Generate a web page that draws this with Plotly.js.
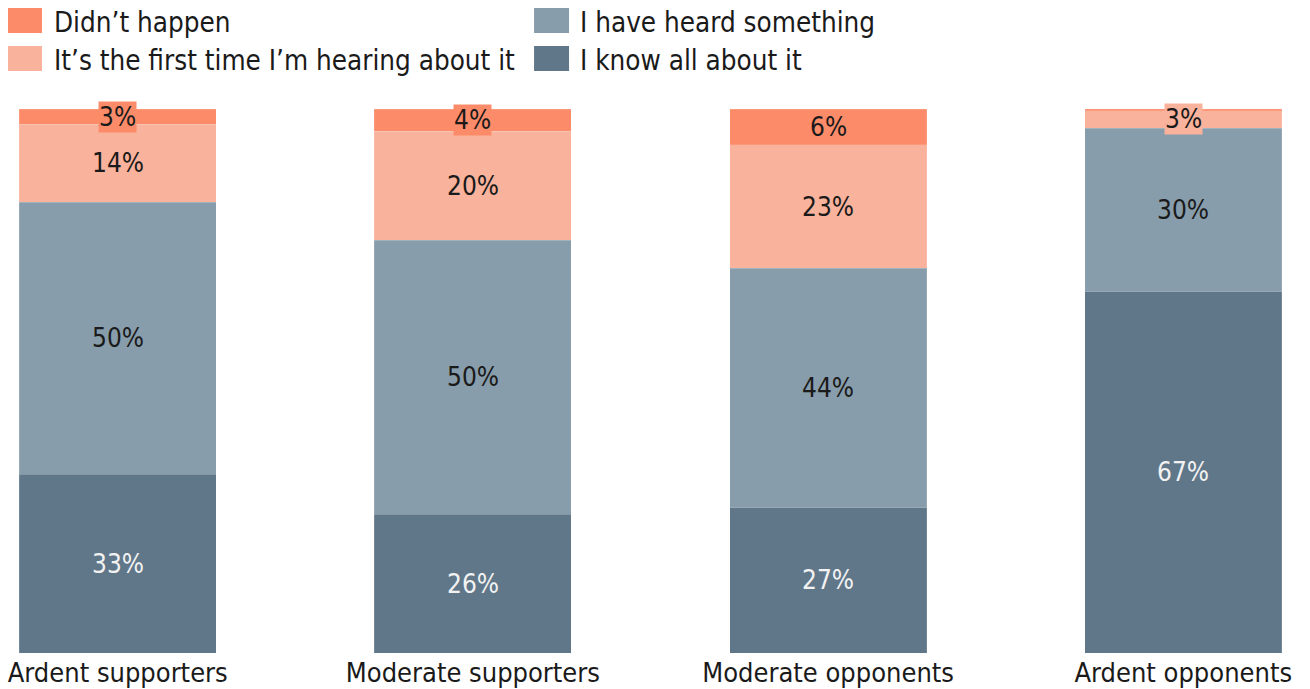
<!DOCTYPE html>
<html>
<head>
<meta charset="utf-8">
<script src="https://cdn.plot.ly/plotly-3.0.1.min.js"></script>
<style>
html,body{margin:0;padding:0;background:#fff;}
#chart{width:1310px;height:689px;}
</style>
</head>
<body>
<div id="chart"></div>
<script>
// ---- data ----
const categories = ["Ardent supporters", "Moderate supporters", "Moderate opponents", "Ardent opponents"];
const seriesNames = ["I know all about it", "I have heard something", "It\u2019s the first time I\u2019m hearing about it", "Didn\u2019t happen"];
const knowAll    = [32.9, 25.5, 26.7, 66.4];
const heardSome  = [50.0, 50.4, 44.0, 30.1];
const firstTime  = [14.3, 20.0, 22.7, 3.2];
const didntHappen= [2.8, 4.1, 6.6, 0.3];
const seriesColors = ["#607789", "#879dab", "#f9b29b", "#fc8b69"];
const labelColors  = ["#f2f2f2", "#1a1a1a", "#1a1a1a", "#1a1a1a"];
const legendRank   = [4, 2, 3, 1];

const FONT = "DejaVu Sans Condensed, DejaVu Sans, sans-serif";
const series = [knowAll, heardSome, firstTime, didntHappen];

// largest-remainder rounding so each bar's labels add to 100
function roundTo100(vals) {
  const fl = vals.map(v => Math.floor(v));
  let rest = 100 - fl.reduce((a, b) => a + b, 0);
  const order = vals.map((v, i) => [v - Math.floor(v), i]).sort((a, b) => b[0] - a[0]);
  for (let k = 0; k < rest && k < order.length; k++) fl[order[k][1]] += 1;
  return fl;
}

const traces = series.map((vals, s) => ({
  type: "bar",
  name: seriesNames[s],
  x: categories,
  y: vals,
  marker: {color: seriesColors[s], line: {color: "rgba(255,255,255,0.25)", width: 0.5}},
  hoverinfo: "x+y+name",
  showlegend: false
}));

const annotations = [];
categories.forEach((cat, c) => {
  const vals = series.map(v => v[c]);
  const labels = roundTo100(vals);
  let base = 0;
  vals.forEach((v, s) => {
    if (labels[s] > 0) {
      annotations.push({
        x: cat, y: base + v / 2, xref: "x", yref: "y",
        text: labels[s] + "%", showarrow: false,
        bgcolor: seriesColors[s], borderpad: 0,
        font: {family: FONT, size: 26, color: labelColors[s]}
      });
    }
    base += v;
  });
});

// custom legend (two columns)
const shapes = [];
const legendSlots = [
  {x0: -0.0087, x1: 0.0182, tx: 0.0262, yc: 1.1627},
  {x0: 0.4078, x1: 0.4355, tx: 0.4427, yc: 1.1627},
  {x0: -0.0087, x1: 0.0182, tx: 0.0262, yc: 1.0928},
  {x0: 0.4078, x1: 0.4355, tx: 0.4427, yc: 1.0928}
];
seriesNames.forEach((name, s) => {
  const slot = legendSlots[legendRank[s] - 1];
  shapes.push({type: "rect", xref: "paper", yref: "paper",
    x0: slot.x0, x1: slot.x1, y0: slot.yc - 0.023, y1: slot.yc + 0.023,
    fillcolor: seriesColors[s], line: {width: 0}});
  annotations.push({xref: "paper", yref: "paper", x: slot.tx, y: slot.yc - 0.004,
    xanchor: "left", yanchor: "middle", showarrow: false, text: name,
    font: {family: FONT, size: 27.6, color: "#1a1a1a"}});
});

const layout = {
  width: 1310, height: 689,
  margin: {l: 19, r: 28, t: 109, b: 36},
  paper_bgcolor: "#ffffff", plot_bgcolor: "#ffffff",
  barmode: "stack", bargap: 0.445,
  showlegend: false,
  font: {family: FONT, size: 26, color: "#1a1a1a"},
  xaxis: {range: [-0.278, 3.278], showgrid: false, zeroline: false, showline: false,
          ticks: "", ticklabelstandoff: 1,
          tickfont: {family: FONT, size: 27, color: "#1a1a1a"}, automargin: false},
  yaxis: {range: [0, 100], visible: false, fixedrange: true},
  annotations: annotations,
  shapes: shapes
};

Plotly.newPlot("chart", traces, layout, {displayModeBar: false, staticPlot: true});
</script>
</body>
</html>
